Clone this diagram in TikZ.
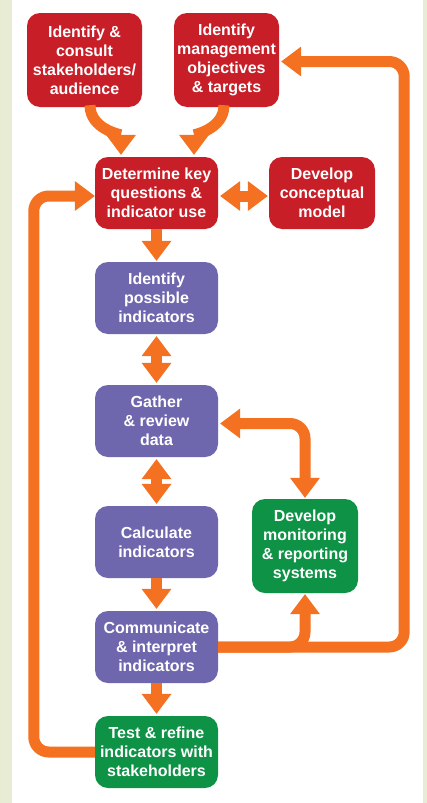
\documentclass[tikz,border=0pt]{standalone}
\usepackage{fontspec}
\setmainfont{Liberation Sans}
\usetikzlibrary{arrows.meta,calc}
\definecolor{bred}{HTML}{C81E27}
\definecolor{bpurple}{HTML}{6E67AE}
\definecolor{bgreen}{HTML}{0E9246}
\definecolor{orng}{HTML}{F37121}
\definecolor{beige}{HTML}{E8ECD5}
\begin{document}
\begin{tikzpicture}[x=1pt,y=-1pt,
  box/.style={rounded corners=13pt, text=white, font=\bfseries\fontsize{16}{19}\selectfont,
    align=center, inner sep=0pt, minimum height=72pt, minimum width=123pt},
  redbox/.style={box, fill=bred},
  purplebox/.style={box, fill=bpurple},
  greenbox/.style={box, fill=bgreen},
  headtip/.tip={Triangle[width=30pt,length=20pt,line width=0pt]},
  arr/.style={draw=orng, line width=11pt, -headtip},
  darr/.style={draw=orng, line width=11pt, headtip-headtip},
]
\useasboundingbox (0,0) rectangle (427,803);
\fill[beige] (0,0) rectangle (427,803);
\fill[white] (12,0) rectangle (423,803);

\node[redbox, minimum width=115pt, minimum height=94pt] (A) at (84.5,60) {Identify \&\\consult\\stakeholders/\\audience};
\node[redbox, minimum width=105pt, minimum height=94pt] (B) at (226.5,60) {Identify\\management\\objectives\\\& targets};
\node[redbox] (C) at (156.5,193) {Determine key\\questions \&\\indicator use};
\node[redbox, minimum width=106pt] (D) at (322,193) {Develop\\conceptual\\model};
\node[purplebox] (E) at (156.5,298) {Identify\\possible\\indicators};
\node[purplebox] (F) at (156.5,421) {Gather\\\& review\\data};
\node[purplebox] (G) at (156.5,542) {Calculate\\indicators};
\node[purplebox] (H) at (156.5,647) {Communicate\\\& interpret\\indicators};
\node[greenbox] (I) at (156.5,752) {Test \& refine\\indicators with\\stakeholders};
\node[greenbox, minimum width=106pt, minimum height=94pt] (J) at (305,546) {Develop\\monitoring\\\& reporting\\systems};

% curved arrows into C
\draw[arr] ($(A.south)+(5.5,-2)$) .. controls +(0,24) and +(0,-20) .. ($(C.north)+(-35.5,-2)$);
\draw[arr] ($(B.south)+(-2.5,-2)$) .. controls +(0,24) and +(0,-20) .. ($(C.north)+(37.5,-2)$);

% C <-> D
\draw[darr] ($(C.east)+(2,3)$) -- ($(D.west)+(-1,3)$);

% main column
\draw[arr] (C.south) -- ($(E.north)+(0,-1)$);
\draw[darr] ($(E.south)+(0,2)$) -- ($(F.north)+(0,-2)$);
\draw[darr] ($(F.south)+(0,2)$) -- ($(G.north)+(0,-2)$);
\draw[arr] (G.south) -- ($(H.north)+(0,-2)$);
\draw[arr] (H.south) -- ($(I.north)+(0,-2)$);

% F <-> J
\draw[darr, rounded corners=15pt] ($(F.east)+(2,2.5)$) -| ($(J.north)+(0,-1)$);

% H -> J branch and H -> B loop
\coordinate (rtop) at ($(B.east)+(125,1.5)$);
\draw[arr, rounded corners=15pt] (H.east) -| ($(J.south)+(0,1)$);
\draw[arr, rounded corners=15pt] (H.east) -| (rtop) -- ($(B.east)+(2,1.5)$);

% I -> C loop
\coordinate (ltop) at ($(C.west)+(-61,3)$);
\draw[arr, rounded corners=15pt] (I.west) -| (ltop) -- ($(C.west)+(0,3)$);
\end{tikzpicture}
\end{document}
